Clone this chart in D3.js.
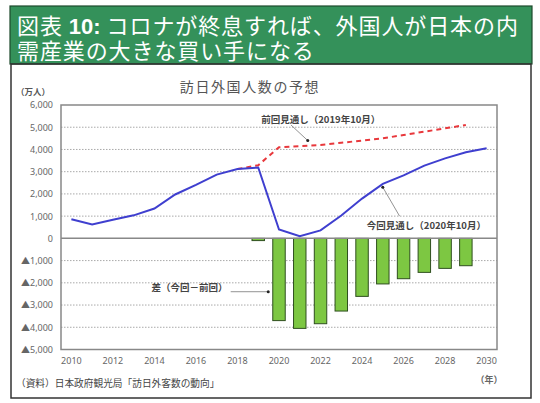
<!DOCTYPE html>
<html>
<head>
<meta charset="utf-8">
<script src="https://cdn.jsdelivr.net/npm/d3@7"></script>
<style>
  body { margin: 0; background: #fff; }
  svg { display: block; font-family: "Noto Sans CJK JP", "Noto Sans", sans-serif; }
  .tick text { fill: #666; font-size: 9px; font-family: "Noto Sans", "Noto Sans CJK JP", sans-serif; }
  .banner { font-family: "Liberation Sans", "Noto Sans CJK JP", sans-serif; }
</style>
</head>
<body>
<svg id="chart" width="540" height="403"></svg>
<script>
const years = d3.range(2010, 2031);
// 今回見通し（2020年10月）
const currentYears = [2010, 2011, 2012, 2013, 2014, 2015, 2016, 2017, 2018, 2019, 2020, 2021, 2022, 2023, 2024, 2025, 2026, 2027, 2028, 2029, 2030];
const currentValues = [861, 622, 836, 1036, 1341, 1974, 2404, 2869, 3119, 3188, 400, 100, 360, 1030, 1790, 2450, 2835, 3270, 3600, 3870, 4050];
// 前回見通し（2019年10月）
const previousYears = [2018, 2019, 2020, 2021, 2022, 2023, 2024, 2025, 2026, 2027, 2028, 2029];
const previousValues = [3119, 3290, 4100, 4150, 4200, 4300, 4400, 4500, 4650, 4800, 4950, 5100];
// 差（今回－前回）
const diffYears = [2019, 2020, 2021, 2022, 2023, 2024, 2025, 2026, 2027, 2028, 2029];
const diffValues = [-100, -3700, -4050, -3840, -3270, -2610, -2050, -1815, -1530, -1350, -1230];

const yTicks = [6000, 5000, 4000, 3000, 2000, 1000, 0, -1000, -2000, -3000, -4000, -5000];
const xTicks = [2010, 2012, 2014, 2016, 2018, 2020, 2022, 2024, 2026, 2028, 2030];

const svg = d3.select('#chart');

// banner
svg.append('rect')
  .attr('x', 10).attr('y', 6).attr('width', 522).attr('height', 58)
  .attr('fill', '#34915a').attr('stroke', '#1d4a2c').attr('stroke-width', 1.2);

// first title line in three pieces so "10:" can be bold
const pieces = [
  { text: '図表', bold: false },
  { text: '10:', bold: true },
  { text: 'コロナが終息すれば、外国人が日本の内', bold: false },
];
let cursor = 17;
pieces.forEach((p) => {
  const t = svg.append('text')
    .attr('class', 'banner')
    .attr('x', cursor).attr('y', 34)
    .attr('fill', '#fff')
    .attr('font-size', 22)
    .attr('letter-spacing', p.bold ? null : 0.9)
    .attr('font-weight', p.bold ? 'bold' : null)
    .text(p.text);
  cursor += t.node().getComputedTextLength() + 6;
});

svg.append('text')
  .attr('class', 'banner')
  .attr('x', 17).attr('y', 59)
  .attr('fill', '#fff')
  .attr('font-size', 22)
  .attr('letter-spacing', 0.9)
  .text('需産業の大きな買い手になる');

// chart frame
svg.append('rect')
  .attr('x', 11).attr('y', 64).attr('width', 520).attr('height', 334)
  .attr('fill', 'none').attr('stroke', '#333').attr('stroke-width', 1.5);

const plotLeft = 61, plotRight = 497, plotTop = 105, plotBottom = 349.5;

const x = d3.scaleBand()
  .domain(years)
  .range([plotLeft, plotRight])
  .paddingInner(0.4)
  .paddingOuter(0.2);
const xc = (d) => x(d) + x.bandwidth() / 2;

const y = d3.scaleLinear()
  .domain([-5000, 6000])
  .range([plotBottom, plotTop]);

// title
svg.append('text')
  .attr('x', 250).attr('y', 92)
  .attr('text-anchor', 'middle')
  .attr('font-size', 14)
  .attr('letter-spacing', 1.6)
  .attr('fill', '#555')
  .text('訪日外国人数の予想');

svg.append('text')
  .attr('x', 16).attr('y', 95)
  .attr('font-size', 8.5)
  .attr('font-weight', 'bold')
  .attr('fill', '#555')
  .text('（万人）');

// grid
svg.append('g')
  .selectAll('line')
  .data(yTicks.filter((d) => d !== 0 && d !== 6000 && d !== -5000))
  .enter()
  .append('line')
  .attr('x1', plotLeft).attr('x2', plotRight)
  .attr('y1', (d) => y(d)).attr('y2', (d) => y(d))
  .attr('stroke', '#aaa')
  .attr('stroke-width', 1)
  .attr('stroke-dasharray', '1.5,1.5');

// bars
svg.append('g')
  .selectAll('rect')
  .data(diffYears)
  .enter()
  .append('rect')
  .attr('x', (d) => x(d))
  .attr('y', y(0))
  .attr('width', x.bandwidth())
  .attr('height', (d, i) => y(diffValues[i]) - y(0))
  .attr('fill', '#7dc742')
  .attr('stroke', '#2f4f1f')
  .attr('stroke-width', 1);

// zero line
svg.append('line')
  .attr('x1', plotLeft).attr('x2', plotRight)
  .attr('y1', y(0)).attr('y2', y(0))
  .attr('stroke', '#888').attr('stroke-width', 1.5);

// plot frame
svg.append('rect')
  .attr('x', plotLeft).attr('y', plotTop)
  .attr('width', plotRight - plotLeft).attr('height', plotBottom - plotTop)
  .attr('fill', 'none').attr('stroke', '#888').attr('stroke-width', 1.5);

const line = d3.line()
  .x((d) => xc(d[0]))
  .y((d) => y(d[1]));

svg.append('path')
  .datum(previousYears.map((d, i) => [d, previousValues[i]]))
  .attr('d', line)
  .attr('fill', 'none')
  .attr('stroke', '#e8383c')
  .attr('stroke-width', 2)
  .attr('stroke-dasharray', '5,4');

svg.append('path')
  .datum(currentYears.map((d, i) => [d, currentValues[i]]))
  .attr('d', line)
  .attr('fill', 'none')
  .attr('stroke', '#3f3fcf')
  .attr('stroke-width', 2);

// axes
const bottomAxis = d3.axisBottom(x)
  .tickValues(xTicks)
  .tickSize(0)
  .tickPadding(8);
svg.append('g')
  .attr('transform', `translate(0, ${plotBottom})`)
  .call(bottomAxis)
  .call((g) => g.select('.domain').remove());

const leftAxis = d3.axisLeft(y)
  .tickValues(yTicks)
  .tickSize(0)
  .tickPadding(8)
  .tickFormat((d) => (d < 0 ? '▲' : '') + d3.format(',')(Math.abs(d)));
svg.append('g')
  .attr('transform', `translate(${plotLeft}, 0)`)
  .call(leftAxis)
  .call((g) => g.select('.domain').remove());

svg.append('text')
  .attr('x', 489).attr('y', 383)
  .attr('text-anchor', 'middle')
  .attr('font-size', 9)
  .attr('font-weight', 'bold')
  .attr('fill', '#666')
  .text('（年）');

svg.append('text')
  .attr('x', 16).attr('y', 387)
  .attr('font-size', 9.7)
  .attr('fill', '#444')
  .text('（資料）日本政府観光局「訪日外客数の動向」');

// annotations
const notes = svg.append('g')
  .attr('font-size', 9.5)
  .attr('font-weight', 'bold')
  .attr('fill', '#444');

notes.append('text')
  .attr('x', xc(2019) + 3).attr('y', y(5200))
  .text('前回見通し（2019年10月）');
notes.append('line')
  .attr('x1', xc(2020) + 12).attr('y1', y(5100))
  .attr('x2', xc(2021) + 8).attr('y2', y(4400))
  .attr('stroke', '#777').attr('stroke-width', 0.8);
notes.append('circle')
  .attr('cx', xc(2021) + 8).attr('cy', y(4400)).attr('r', 1.5).attr('fill', '#222');

notes.append('text')
  .attr('x', xc(2025) - 16).attr('y', y(400))
  .text('今回見通し（2020年10月）');
notes.append('line')
  .attr('x1', xc(2026) - 4).attr('y1', y(1000))
  .attr('x2', xc(2025)).attr('y2', y(2300))
  .attr('stroke', '#777').attr('stroke-width', 0.8);
notes.append('circle')
  .attr('cx', xc(2025)).attr('cy', y(2300)).attr('r', 1.5).attr('fill', '#222');

notes.append('text')
  .attr('x', xc(2014) - 3).attr('y', y(-2370))
  .text('差（今回－前回）');
notes.append('line')
  .attr('x1', xc(2017) + 14).attr('y1', y(-2400))
  .attr('x2', xc(2019) + 10).attr('y2', y(-2400))
  .attr('stroke', '#777').attr('stroke-width', 0.8);
notes.append('circle')
  .attr('cx', xc(2019) + 10).attr('cy', y(-2400)).attr('r', 1.5).attr('fill', '#222');
</script>
</body>
</html>
